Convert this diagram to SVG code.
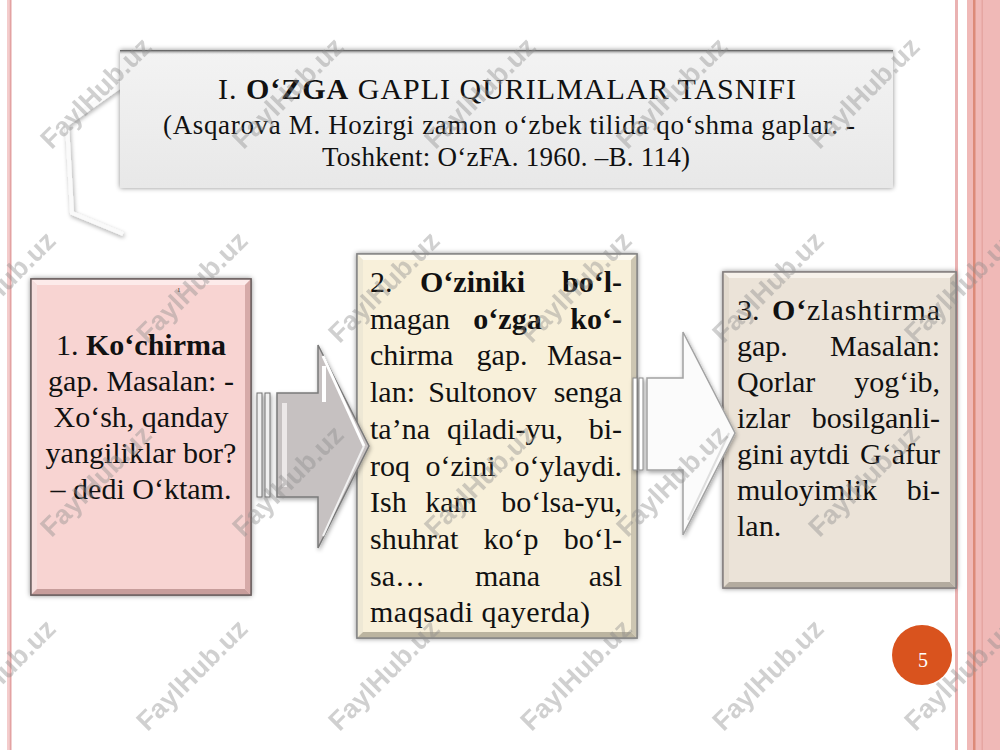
<svg xmlns="http://www.w3.org/2000/svg" width="1000" height="750" viewBox="0 0 1000 750">
<defs>
<style>
.t{font-family:"Liberation Serif","Times New Roman",serif;fill:#111}
.bx{font-size:30px}
.b{font-weight:bold}
.m{text-anchor:middle}
.e{text-anchor:end}
.wm{font-family:"Liberation Sans",Arial,sans-serif;font-weight:bold;font-size:27px;fill:#8c8c8c;opacity:.4;text-anchor:middle;dominant-baseline:central}
</style>
<linearGradient id="tg" x1="0" y1="0" x2="0" y2="1">
<stop offset="0" stop-color="#f3f3f3"/><stop offset="1" stop-color="#e8e8e8"/>
</linearGradient>
<linearGradient id="topsh" x1="0" y1="0" x2="0" y2="1">
<stop offset="0" stop-color="#4a4a4a"/><stop offset="1" stop-color="#ececec" stop-opacity="0"/>
</linearGradient>
<filter id="sh" x="-10%" y="-10%" width="120%" height="120%">
<feDropShadow dx="0" dy="0" stdDeviation="2.5" flood-color="#000" flood-opacity="0.45"/>
</filter>
<filter id="sh2" x="-20%" y="-20%" width="140%" height="140%">
<feDropShadow dx="1" dy="2" stdDeviation="2" flood-color="#000" flood-opacity="0.35"/>
</filter>
</defs>
<rect width="1000" height="750" fill="#fff"/>
<!-- page borders -->
<rect x="7" y="0" width="2.5" height="750" fill="#f4cccc"/>
<rect x="9.5" y="0" width="2" height="750" fill="#e3a2a2"/>
<rect x="955" y="0" width="3" height="750" fill="#eab2b2"/>
<rect x="967" y="0" width="33" height="750" fill="#f0b9b7"/>
<rect x="973" y="0" width="2.5" height="750" fill="#dc8a78"/>
<rect x="981.5" y="0" width="1.5" height="750" fill="#e6a6a2"/>

<!-- title -->
<g id="title">
<polyline points="122,85 67,124 72,213 123,234" fill="none" stroke="#fafafa" stroke-width="4" filter="url(#sh2)"/>
<rect x="120" y="50" width="773" height="138" fill="url(#tg)" filter="url(#sh)"/>
<rect x="120" y="50" width="773" height="5" fill="url(#topsh)"/>
<text class="t" x="218" y="99" font-size="30" textLength="578">I. <tspan class="b">O‘ZGA</tspan> GAPLI QURILMALAR TASNIFI</text>
<text class="t" x="163" y="134" font-size="27" textLength="692">(Asqarova M. Hozirgi zamon o‘zbek tilida qo‘shma gaplar.  -</text>
<text class="t" x="322" y="166" font-size="27" textLength="368">Toshkent: O‘zFA. 1960. –B. 114)</text>
</g>

<!-- box 1 -->
<g id="box1">
<rect x="31" y="279" width="220" height="316" fill="#f8d4d2" stroke="#6e6262" stroke-width="1.5" filter="url(#sh)"/>
<polygon points="31,279 251,279 245,285 37,285" fill="#fdebea"/>
<polygon points="31,279 37,285 37,589 31,595" fill="#f6dedd"/>
<polygon points="251,279 251,595 245,589 245,285" fill="#d6aaa8"/>
<polygon points="31,595 251,595 245,589 37,589" fill="#c79d9b"/>
<rect x="31" y="279" width="220" height="316" fill="none" stroke="#6e6262" stroke-width="1.5"/>
<text class="t" x="177" y="292" font-size="7">1</text>
<g class="t bx m">
<text x="141" y="355">1. <tspan class="b">Ko‘chirma</tspan></text>
<text x="141" y="391">gap. Masalan: -</text>
<text x="141" y="427">Xo‘sh, qanday</text>
<text x="141" y="463">yangiliklar bor?</text>
<text x="141" y="499">– dedi O‘ktam.</text>
</g>
</g>

<!-- box 2 -->
<g id="box2">
<rect x="357" y="254" width="280" height="384" fill="#f8f0da" stroke="#878787" stroke-width="1.5" filter="url(#sh)"/>
<polygon points="357,254 637,254 631,260 363,260" fill="#fdfaf1"/>
<polygon points="357,254 363,260 363,632 357,638" fill="#eee8d5"/>
<polygon points="637,254 637,638 631,632 631,260" fill="#cdc6b2"/>
<polygon points="357,638 637,638 631,632 363,632" fill="#bbb4a0"/>
<rect x="357" y="254" width="280" height="384" fill="none" stroke="#878787" stroke-width="1.5"/>
<g class="t bx">
<text x="370" y="292">2.</text><text class="b m" x="472.5" y="292">O‘ziniki</text><text class="b e" x="622" y="292">bo‘l-</text>
<text x="370" y="328.7">magan</text><text class="b m" x="507.5" y="328.7">o‘zga</text><text class="b e" x="622" y="328.7">ko‘-</text>
<text x="370" y="365.4">chirma</text><text class="m" x="502" y="365.4">gap.</text><text class="e" x="622" y="365.4">Masa-</text>
<text x="370" y="402.1">lan:</text><text class="m" x="482.5" y="402.1">Sultonov</text><text class="e" x="622" y="402.1">senga</text>
<text x="370" y="438.8">ta’na</text><text class="m" x="505" y="438.8">qiladi-yu,</text><text class="e" x="622" y="438.8">bi-</text>
<text x="370" y="475.5">roq</text><text class="m" x="460.5" y="475.5">o‘zini</text><text class="e" x="622" y="475.5">o‘ylaydi.</text>
<text x="370" y="512.2">Ish</text><text class="m" x="451" y="512.2">kam</text><text class="e" x="622" y="512.2">bo‘lsa-yu,</text>
<text x="370" y="548.9">shuhrat</text><text class="m" x="511" y="548.9">ko‘p</text><text class="e" x="622" y="548.9">bo‘l-</text>
<text x="370" y="585.6">sa…</text><text class="m" x="507.5" y="585.6">mana</text><text class="e" x="622" y="585.6">asl</text>
<text x="370" y="622.3" textLength="220">maqsadi qayerda)</text>
</g>
</g>

<!-- box 3 -->
<g id="box3">
<rect x="723" y="272" width="233" height="316" fill="#ebe3d8" stroke="#858080" stroke-width="1.5" filter="url(#sh)"/>
<polygon points="723,272 956,272 950,278 729,278" fill="#f7f2eb"/>
<polygon points="723,272 729,278 729,582 723,588" fill="#e2dace"/>
<polygon points="956,272 956,588 950,582 950,278" fill="#c3bbaf"/>
<polygon points="723,588 956,588 950,582 729,582" fill="#b3ab9f"/>
<rect x="723" y="272" width="233" height="316" fill="none" stroke="#858080" stroke-width="1.5"/>
<g class="t bx">
<text x="737" y="320">3.</text><text x="772" y="320" textLength="168"><tspan class="b">O‘</tspan>zlashtirma</text>
<text x="737" y="356">gap.</text><text class="e" x="940" y="356">Masalan:</text>
<text x="737" y="392">Qorlar</text><text class="e" x="940" y="392">yog‘ib,</text>
<text x="737" y="428">izlar</text><text class="e" x="940" y="428">bosilganli-</text>
<text x="737" y="464">gini</text><text class="m" x="819.5" y="464">aytdi</text><text class="e" x="940" y="464">G‘afur</text>
<text x="737" y="500">muloyimlik</text><text class="e" x="940" y="500">bi-</text>
<text x="737" y="536">lan.</text>
</g>
</g>

<!-- connectors -->
<g id="connectors">
<g id="arrow1" filter="url(#sh2)">
<rect x="257" y="393" width="5" height="104" fill="#f0f0f0" stroke="#707070" stroke-width="1"/>
<rect x="265" y="393" width="5" height="104" fill="#f0f0f0" stroke="#707070" stroke-width="1"/>
<path d="M277,393 H318 V345 L369,446 L318,548 V497 H277 Z" fill="#c6c1c1" stroke="#7a7a7a" stroke-width="1.5"/>
<rect x="282" y="403" width="5" height="84" fill="#ece8e8"/>
<path d="M324,366 V402" stroke="#fff" stroke-width="4"/>
<path d="M323,356 L364,446" stroke="#fff" stroke-width="3"/>
<path d="M323,536 L364,446" stroke="#f2f2f2" stroke-width="2"/>
</g>
<g id="arrow2" filter="url(#sh2)">
<rect x="633" y="378" width="4" height="92" fill="#fff" stroke="#8a8a8a" stroke-width="1"/>
<rect x="639" y="378" width="4" height="92" fill="#fff" stroke="#8a8a8a" stroke-width="1"/>
<path d="M647,378 H683 V332 L735,433 L683,535 V470 H647 Z" fill="#fbfbfb" stroke="#a2a2a2" stroke-width="1.5"/>
<path d="M688,520 L729,433" stroke="#dedede" stroke-width="2"/>
</g>
</g>

<!-- page number -->
<g id="pagenum">
<circle cx="922" cy="655" r="30" fill="#d9531e"/>
<text x="923" y="667" font-family="Liberation Serif, Times New Roman, serif" font-size="20" fill="#fff" text-anchor="middle">5</text>
</g>

<!-- watermarks -->
<g id="watermarks">
<text class="wm" transform="translate(96,93) rotate(-45)">FaylHub.uz</text>
<text class="wm" transform="translate(288,93) rotate(-45)">FaylHub.uz</text>
<text class="wm" transform="translate(480,93) rotate(-45)">FaylHub.uz</text>
<text class="wm" transform="translate(672,93) rotate(-45)">FaylHub.uz</text>
<text class="wm" transform="translate(864,93) rotate(-45)">FaylHub.uz</text>
<text class="wm" transform="translate(0,287) rotate(-45)">FaylHub.uz</text>
<text class="wm" transform="translate(192,287) rotate(-45)">FaylHub.uz</text>
<text class="wm" transform="translate(384,287) rotate(-45)">FaylHub.uz</text>
<text class="wm" transform="translate(576,287) rotate(-45)">FaylHub.uz</text>
<text class="wm" transform="translate(768,287) rotate(-45)">FaylHub.uz</text>
<text class="wm" transform="translate(960,287) rotate(-45)">FaylHub.uz</text>
<text class="wm" transform="translate(96,481) rotate(-45)">FaylHub.uz</text>
<text class="wm" transform="translate(288,481) rotate(-45)">FaylHub.uz</text>
<text class="wm" transform="translate(480,481) rotate(-45)">FaylHub.uz</text>
<text class="wm" transform="translate(672,481) rotate(-45)">FaylHub.uz</text>
<text class="wm" transform="translate(864,481) rotate(-45)">FaylHub.uz</text>
<text class="wm" transform="translate(0,675) rotate(-45)">FaylHub.uz</text>
<text class="wm" transform="translate(192,675) rotate(-45)">FaylHub.uz</text>
<text class="wm" transform="translate(384,675) rotate(-45)">FaylHub.uz</text>
<text class="wm" transform="translate(576,675) rotate(-45)">FaylHub.uz</text>
<text class="wm" transform="translate(768,675) rotate(-45)">FaylHub.uz</text>
<text class="wm" transform="translate(960,675) rotate(-45)">FaylHub.uz</text>
</g>
</svg>
